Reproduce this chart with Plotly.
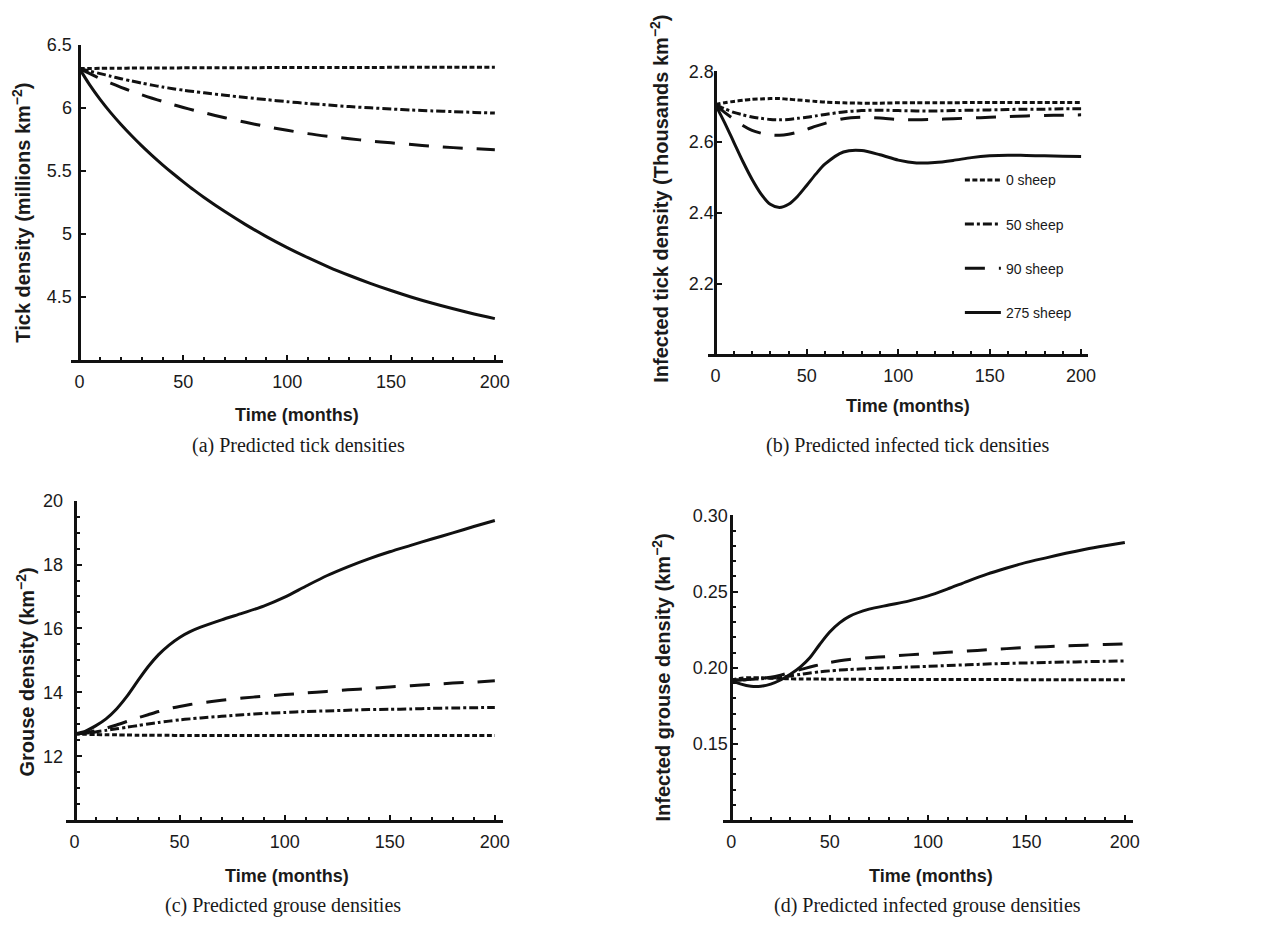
import plotly.graph_objects as go

# ---------------- data ----------------
T = [0, 5, 10, 15, 20, 25, 30, 35, 40, 45, 50, 55, 60, 70, 80, 90, 100,
     110, 120, 130, 140, 150, 160, 170, 180, 190, 200]

SERIES = ["0 sheep", "50 sheep", "90 sheep", "275 sheep"]

# (a) tick density (millions km^-2)
A_0 = [6.310, 6.311, 6.312, 6.313, 6.313, 6.314, 6.314, 6.315, 6.315, 6.315, 6.316, 6.316, 6.316,
       6.317, 6.317, 6.318, 6.318, 6.318, 6.319, 6.319, 6.319, 6.320, 6.320, 6.320, 6.320, 6.320, 6.320]
A_50 = [6.31, 6.29, 6.27, 6.25, 6.23, 6.212, 6.195, 6.179, 6.164, 6.151, 6.139, 6.128, 6.118, 6.099, 6.081,
        6.064, 6.048, 6.034, 6.021, 6.009, 5.999, 5.990, 5.982, 5.975, 5.969, 5.963, 5.958]
A_90 = [6.31, 6.27, 6.23, 6.195, 6.162, 6.131, 6.102, 6.075, 6.05, 6.025, 6.002, 5.98, 5.96, 5.921, 5.885,
        5.851, 5.821, 5.795, 5.773, 5.754, 5.737, 5.722, 5.708, 5.695, 5.684, 5.675, 5.668]
A_275 = [6.310, 6.179, 6.064, 5.961, 5.867, 5.780, 5.698, 5.621, 5.548, 5.479, 5.413, 5.349, 5.289,
         5.177, 5.074, 4.979, 4.892, 4.812, 4.738, 4.671, 4.609, 4.552, 4.499, 4.451, 4.407, 4.366, 4.329]

# (b) infected tick density (thousands km^-2)
B_0 = [2.706, 2.711, 2.715, 2.718, 2.721, 2.722, 2.723, 2.723, 2.721, 2.719, 2.717, 2.715, 2.713,
       2.711, 2.710, 2.710, 2.711, 2.711, 2.711, 2.711, 2.712, 2.712, 2.712, 2.712, 2.712, 2.712, 2.712]
B_50 = [2.706, 2.694, 2.684, 2.677, 2.671, 2.667, 2.664, 2.663, 2.664, 2.667, 2.670, 2.674, 2.678,
        2.685, 2.689, 2.690, 2.689, 2.688, 2.688, 2.689, 2.690, 2.691, 2.692, 2.693, 2.693, 2.694, 2.694]
B_90 = [2.706, 2.684, 2.665, 2.647, 2.633, 2.625, 2.620, 2.619, 2.622, 2.628, 2.636, 2.645, 2.653,
        2.666, 2.670, 2.668, 2.664, 2.663, 2.664, 2.666, 2.668, 2.670, 2.672, 2.674, 2.675, 2.676, 2.677]
B_275 = [2.706, 2.655, 2.600, 2.545, 2.495, 2.453, 2.424, 2.415, 2.424, 2.447, 2.478, 2.510, 2.538,
         2.572, 2.576, 2.564, 2.549, 2.541, 2.542, 2.548, 2.556, 2.561, 2.563, 2.562, 2.561, 2.560, 2.559]

# (c) grouse density (km^-2)
C_0 = [12.70, 12.69, 12.68, 12.675, 12.67, 12.665, 12.66, 12.66, 12.655, 12.655, 12.65, 12.65, 12.65,
       12.65, 12.65, 12.65, 12.65, 12.65, 12.65, 12.65, 12.65, 12.65, 12.65, 12.65, 12.65, 12.65, 12.65]
C_50 = [12.70, 12.72, 12.76, 12.81, 12.86, 12.91, 12.96, 13.01, 13.06, 13.10, 13.14, 13.17, 13.20,
        13.25, 13.30, 13.34, 13.37, 13.40, 13.42, 13.44, 13.46, 13.47, 13.48, 13.50, 13.51, 13.52, 13.53]
C_90 = [12.70, 12.73, 12.80, 12.88, 12.98, 13.09, 13.20, 13.30, 13.40, 13.49, 13.56, 13.62, 13.67,
        13.75, 13.82, 13.88, 13.93, 13.98, 14.03, 14.08, 14.12, 14.17, 14.21, 14.25, 14.29, 14.32, 14.36]
C_275 = [12.70, 12.78, 12.95, 13.17, 13.48, 13.88, 14.35, 14.80, 15.18, 15.48, 15.72, 15.90, 16.04,
         16.27, 16.48, 16.70, 16.98, 17.32, 17.65, 17.93, 18.18, 18.40, 18.60, 18.80, 18.99, 19.19, 19.38]

# (d) infected grouse density (km^-2)
D_0 = [0.1920, 0.1932, 0.1935, 0.1935, 0.1932, 0.1930, 0.1928, 0.1927, 0.1926, 0.1926, 0.1925, 0.1925,
       0.1925, 0.1924, 0.1924, 0.1924, 0.1923, 0.1923, 0.1923, 0.1923, 0.1923, 0.1922, 0.1922, 0.1922,
       0.1922, 0.1922, 0.1922]
D_50 = [0.1920, 0.1920, 0.1925, 0.1928, 0.1933, 0.1938, 0.1947, 0.1957, 0.1966, 0.1974, 0.1980, 0.1985,
        0.1989, 0.1995, 0.2000, 0.2005, 0.2010, 0.2015, 0.2020, 0.2025, 0.2029, 0.2032, 0.2035, 0.2038,
        0.2040, 0.2043, 0.2045]
D_90 = [0.1920, 0.1920, 0.1925, 0.1930, 0.1938, 0.1952, 0.1970, 0.1988, 0.2005, 0.2021, 0.2035, 0.2046,
        0.2055, 0.2066, 0.2075, 0.2085, 0.2093, 0.2102, 0.2110, 0.2118, 0.2126, 0.2133, 0.2139, 0.2145,
        0.2149, 0.2153, 0.2157]
D_275 = [0.1920, 0.1893, 0.1879, 0.1879, 0.1893, 0.1920, 0.1958, 0.2005, 0.2068, 0.2155, 0.2235, 0.2295,
         0.2338, 0.2385, 0.2412, 0.2438, 0.2472, 0.2518, 0.2568, 0.2615, 0.2655, 0.2692, 0.2722, 0.2752,
         0.2779, 0.2802, 0.2823]

X_TICKS = [0, 50, 100, 150, 200]
A_YTICKS = [4.5, 5, 5.5, 6, 6.5]
A_YLABELS = ["4.5", "5", "5.5", "6", "6.5"]
B_YTICKS = [2.2, 2.4, 2.6, 2.8]
B_YLABELS = ["2.2", "2.4", "2.6", "2.8"]
C_YTICKS = [12, 14, 16, 18, 20]
C_YLABELS = ["12", "14", "16", "18", "20"]
D_YTICKS = [0.15, 0.20, 0.25, 0.30]
D_YLABELS = ["0.15", "0.20", "0.25", "0.30"]

CAPTIONS = ["(a) Predicted tick densities", "(b) Predicted infected tick densities",
            "(c) Predicted grouse densities", "(d) Predicted infected grouse densities"]
YTITLES = ["Tick density (millions km<sup>−2</sup>)",
           "Infected tick density (Thousands km<sup>−2</sup>)",
           "Grouse density (km<sup>−2</sup>)",
           "Infected grouse density (km<sup>−2</sup>)"]
XTITLE = "Time (months)"

# ---------------- layout helpers ----------------
W, H = 1262, 927
INK = "#111111"
SANS = "Liberation Sans, Arial, sans-serif"
SERIF = "Liberation Serif, Times New Roman, serif"

DASH = {"0 sheep": "5px,2.5px", "50 sheep": "9px,3px,3px,3px",
        "90 sheep": "20px,14px", "275 sheep": "solid"}

# pixel geometry: x of t=0, x of t=200, y of top value, y of bottom value
PANELS = [
    dict(x0=80, x200=498, ytop=35, ybot=354, yr=[4.0, 6.5], tv=A_YTICKS, tt=A_YLABELS,
         data=[A_0, A_50, A_90, A_275], minor=None, ystand=3,
         ytitle=(22, 205), xtitle=(299, 409), cap=(300, 440)),
    dict(x0=720, x200=1088, ytop=62, ybot=348, yr=[2.0, 2.8], tv=B_YTICKS, tt=B_YLABELS,
         data=[B_0, B_50, B_90, B_275], minor=None, ystand=-3,
         ytitle=(664, 191), xtitle=(914, 400), cap=(913, 440)),
    dict(x0=75, x200=498, ytop=496, ybot=819, yr=[10, 20], tv=C_YTICKS, tt=C_YLABELS,
         data=[C_0, C_50, C_90, C_275], minor=(10, 0.5), ystand=7,
         ytitle=(26, 669), xtitle=(289, 875), cap=(285, 905)),
    dict(x0=736, x200=1132, ytop=511, ybot=819, yr=[0.10, 0.30], tv=D_YTICKS, tt=D_YLABELS,
         data=[D_0, D_50, D_90, D_275], minor=(0.10, 0.01), ystand=-1,
         ytitle=(666, 675), xtitle=(937, 875), cap=(933, 905)),
]

fig = go.Figure()
annotations = []
layout = {}
PAD = 4.0

for i, p in enumerate(PANELS):
    k = "" if i == 0 else str(i + 1)
    ppu = (p["x200"] - p["x0"]) / 200.0
    xdom = [(p["x0"] - PAD * ppu) / W, (p["x200"] + PAD * ppu) / W]
    ydom = [1 - p["ybot"] / H, 1 - p["ytop"] / H]

    for name, vals in zip(SERIES, p["data"]):
        fig.add_trace(go.Scatter(
            x=T, y=vals, mode="lines", name=name,
            line=dict(color=INK, width=3, dash=DASH[name], shape="spline", smoothing=0.8),
            xaxis="x" + k, yaxis="y" + k,
            showlegend=(i == 1), legendgroup=name, hoverinfo="skip"))

    layout["xaxis" + k] = dict(
        domain=xdom, range=[-PAD, 200 + PAD], anchor="y" + k,
        tickmode="array", tickvals=X_TICKS, ticktext=[str(v) for v in X_TICKS],
        ticks="inside", ticklen=5, tickwidth=2, tickcolor=INK,
        showline=True, linewidth=3, linecolor=INK,
        showgrid=False, zeroline=False,
        minor=dict(tickmode="linear", tick0=0, dtick=10, ticks="inside", ticklen=3,
                   tickwidth=2, tickcolor=INK, showgrid=False),
        tickfont=dict(family=SANS, size=18, color="#1a1a1a"),
        ticklabelstandoff=3)
    ydict = dict(
        domain=ydom, range=p["yr"], anchor="free", position=p["x0"] / W,
        tickmode="array", tickvals=p["tv"], ticktext=p["tt"],
        ticks="inside", ticklen=5, tickwidth=2, tickcolor=INK,
        showline=True, linewidth=3, linecolor=INK,
        showgrid=False, zeroline=False,
        tickfont=dict(family=SANS, size=18, color="#1a1a1a"),
        ticklabelstandoff=p["ystand"])
    if p["minor"] is not None:
        ydict["minor"] = dict(tickmode="linear", tick0=p["minor"][0], dtick=p["minor"][1],
                              ticks="inside", ticklen=3, tickwidth=2, tickcolor=INK,
                              showgrid=False)
    layout["yaxis" + k] = ydict

    annotations.append(dict(
        text="<b>" + YTITLES[i] + "</b>", textangle=-90,
        x=p["ytitle"][0] / W, y=1 - p["ytitle"][1] / H, xref="paper", yref="paper",
        xanchor="center", yanchor="middle", showarrow=False,
        font=dict(family=SANS, size=20, color="#1a1a1a")))
    annotations.append(dict(
        text="<b>" + XTITLE + "</b>",
        x=p["xtitle"][0] / W, y=1 - p["xtitle"][1] / H, xref="paper", yref="paper",
        xanchor="center", yanchor="middle", showarrow=False,
        font=dict(family=SANS, size=18, color="#1a1a1a")))
    annotations.append(dict(
        text=CAPTIONS[i],
        x=p["cap"][0] / W, y=1 - p["cap"][1] / H, xref="paper", yref="paper",
        xanchor="center", yanchor="middle", showarrow=False,
        font=dict(family=SERIF, size=20, color="#1a1a1a")))

fig.update_layout(
    width=W, height=H,
    margin=dict(l=0, r=0, t=0, b=0),
    paper_bgcolor="white", plot_bgcolor="white",
    annotations=annotations,
    legend=dict(x=966 / W, y=1 - 156 / H, xanchor="left", yanchor="top",
                bgcolor="rgba(0,0,0,0)", borderwidth=0,
                font=dict(family=SANS, size=14, color="#1a1a1a"),
                tracegroupgap=23, itemwidth=36, traceorder="grouped"),
    **layout)

fig.write_html("out.html")
